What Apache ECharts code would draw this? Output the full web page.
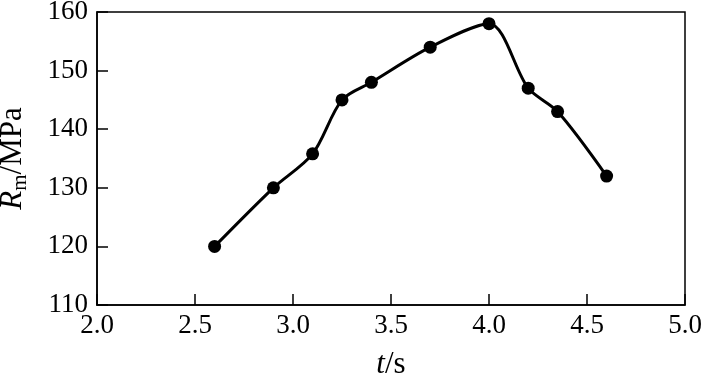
<!DOCTYPE html>
<html>
<head>
<meta charset="utf-8">
<script src="https://cdn.jsdelivr.net/npm/echarts@6/dist/echarts.min.js"></script>
<style>
	html, body { margin: 0; padding: 0; background: #fff; }
	#chart { width: 701px; height: 380px; }
</style>
</head>
<body>
<div id="chart"></div>
<script>
// t (s) and Rm (MPa)
var timeValues = [2.6, 2.9, 3.1, 3.25, 3.4, 3.7, 4.0, 4.2, 4.35, 4.6];
var strengthValues = [120, 130, 135.8, 145, 148, 154, 158, 147, 143, 132];

var fontFamily = '"Liberation Serif", "DejaVu Serif", serif';

var points = [];
for (var i = 0; i < timeValues.length; i++) {
	points.push([timeValues[i], strengthValues[i]]);
}

var chart = echarts.init(document.getElementById('chart'));
chart.setOption({
	animation: false,
	backgroundColor: '#fff',
	grid: {
		left: 97, right: 16, top: 12, bottom: 75,
		show: true, borderColor: '#000', borderWidth: 1.5,
		containLabel: false,
		outerBoundsMode: 'none'
	},
	xAxis: {
		type: 'value', min: 2.0, max: 5.0, interval: 0.5,
		name: '{i|t}/s', nameLocation: 'middle', nameGap: 44,
		nameTextStyle: {
			fontFamily: fontFamily, fontSize: 31, color: '#000',
			rich: { i: { fontFamily: fontFamily, fontSize: 31, fontStyle: 'italic', color: '#000' } }
		},
		axisLine: { lineStyle: { color: '#000', width: 1.5 } },
		axisTick: { inside: true, length: 11, lineStyle: { color: '#000', width: 1.5 } },
		axisLabel: {
			fontFamily: fontFamily, fontSize: 27, color: '#000', margin: 7,
			formatter: function(v){ return v.toFixed(1); }
		},
		splitLine: { show: false }
	},
	yAxis: {
		type: 'value', min: 110, max: 160, interval: 10,
		name: '{i|R}{s|m}/MPa', nameLocation: 'middle', nameGap: 66, nameRotate: 90,
		nameTextStyle: {
			fontFamily: fontFamily, fontSize: 31, color: '#000',
			rich: {
				i: { fontFamily: fontFamily, fontSize: 31, fontStyle: 'italic', color: '#000' },
				s: { fontFamily: fontFamily, fontSize: 21, color: '#000', verticalAlign: 'bottom', padding: [16, 0, 0, 0] }
			}
		},
		axisLine: { lineStyle: { color: '#000', width: 1.5 } },
		axisTick: { inside: true, length: 11, lineStyle: { color: '#000', width: 1.5 } },
		axisLabel: { fontFamily: fontFamily, fontSize: 27, color: '#000', margin: 9 },
		splitLine: { show: false }
	},
	series: [{
		type: 'line',
		data: points,
		smooth: 0.3,
		symbol: 'circle',
		symbolSize: 13,
		lineStyle: { color: '#000', width: 3 },
		itemStyle: { color: '#000' }
	}]
});
</script>
</body>
</html>
